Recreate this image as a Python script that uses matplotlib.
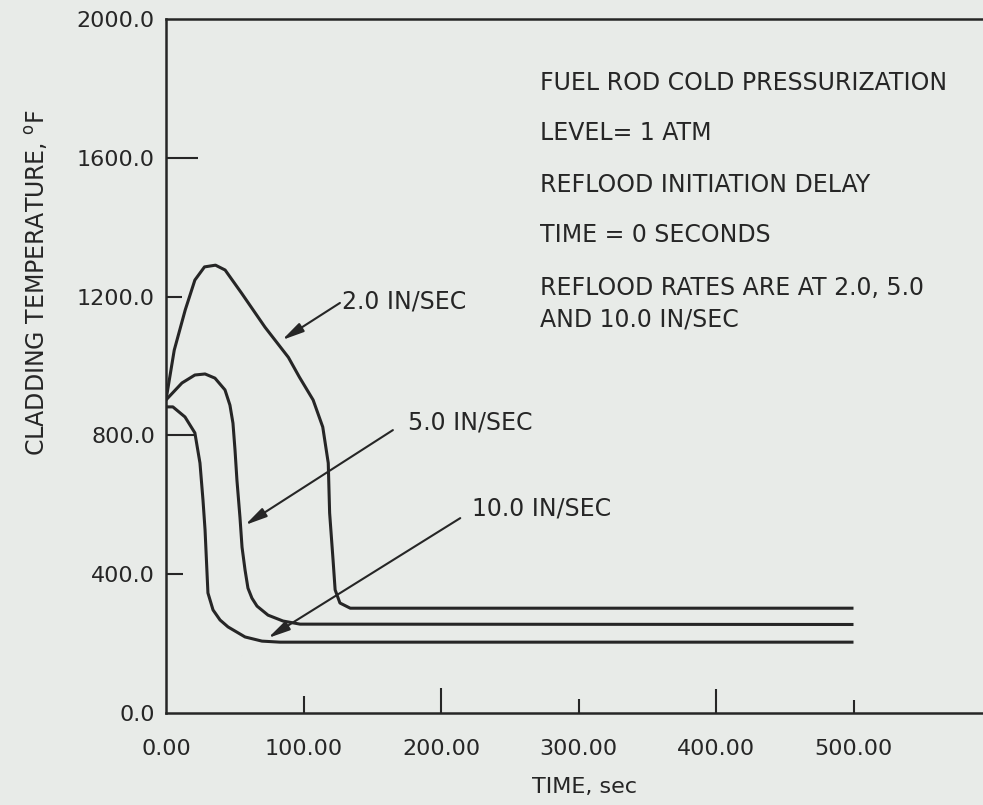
import matplotlib
matplotlib.use('Agg')
import matplotlib.pyplot as plt
import numpy as np

# curves (time sec, cladding temp F)
t_2in = [0, 6, 14, 21, 28, 36, 43, 55, 72, 89, 97, 107, 114, 118, 119, 121.5, 123, 126.5, 134, 500]
T_2in = [902, 1046, 1162, 1248, 1286, 1291, 1277, 1210, 1112, 1025, 968, 902, 824, 720, 576, 440, 354, 316, 301, 301]

t_5in = [0, 11.6, 21, 28.4, 35.6, 42.9, 46.5, 48.7, 50.2, 51.6, 53.8, 55.3, 57.5, 59.6, 62.5, 66.2, 74.2, 85.1, 97.5, 500]
T_5in = [902, 951, 974, 977, 965, 931, 887, 835, 757, 670, 563, 477, 411, 359, 330, 307, 281, 264, 255, 254]

t_10in = [0, 5, 13.8, 21, 24.7, 26.9, 28.4, 30.5, 34.2, 39.3, 45.1, 57.5, 69.8, 82.9, 500]
T_10in = [882, 882, 853, 807, 720, 613, 527, 345, 296, 267, 247, 218, 206, 203, 203]

x_ticks = [0, 100, 200, 300, 400, 500]
x_labels = ['0.00', '100.00', '200.00', '300.00', '400.00', '500.00']
y_ticks = [0, 400, 800, 1200, 1600, 2000]
y_labels = ['0.0', '400.0', '800.0', '1200.0', '1600.0', '2000.0']

notes = ['FUEL ROD COLD PRESSURIZATION', 'LEVEL= 1 ATM', 'REFLOOD INITIATION DELAY',
         'TIME = 0 SECONDS', 'REFLOOD RATES ARE AT 2.0, 5.0', 'AND 10.0 IN/SEC']
notes_y = [1817, 1673, 1522, 1378, 1225, 1133]

# curve labels: text, text pos, arrow tail, arrow head
rate_labels = ['2.0 IN/SEC', '5.0 IN/SEC', '10.0 IN/SEC']
rate_text_xy = [(128, 1185), (176, 836), (222.5, 590)]
rate_tail = [(126.5, 1182), (165, 815), (214, 561)]
rate_head = [(84.4, 1075), (57.5, 541), (74.2, 215)]

bg = '#e8ebe8'
ink = '#262626'

plt.rcParams['font.family'] = 'DejaVu Sans'

fig = plt.figure(figsize=(9.83, 8.05), dpi=100, facecolor=bg)
ax = fig.add_axes([166 / 983, 92.5 / 805, 825 / 983, 693 / 805])
ax.set_facecolor(bg)

for t, T in [(t_2in, T_2in), (t_5in, T_5in), (t_10in, T_10in)]:
    ax.plot(t, T, color=ink, lw=2.2, solid_joinstyle='round', solid_capstyle='butt')

ax.set_xlim(0, 600)
ax.set_ylim(0, 2000)

for s in ['left', 'bottom', 'top']:
    ax.spines[s].set_linewidth(1.8)
    ax.spines[s].set_color(ink)
ax.spines['right'].set_visible(False)

ax.set_xticks(x_ticks)
ax.set_xticklabels(x_labels)
ax.set_yticks(y_ticks)
ax.set_yticklabels(y_labels)
ax.tick_params(direction='in', width=1.5, color=ink, labelcolor=ink, labelsize=16)
ax.tick_params(axis='x', pad=19)
ax.tick_params(axis='y', pad=8)

ax.set_xlabel('TIME, sec', fontsize=16, color=ink)
ax.xaxis.set_label_coords(585 / 983, 1 - 777 / 805, transform=fig.transFigure)
ax.set_ylabel(r'CLADDING TEMPERATURE, $^{\mathrm{o}}$F', fontsize=17, color=ink)
ax.yaxis.set_label_coords(50 / 983, 1 - 282 / 805, transform=fig.transFigure)

for txt, y in zip(notes, notes_y):
    ax.text(272, y, txt, fontsize=17, color=ink, va='center', ha='left')

for lab, txy, tail, head in zip(rate_labels, rate_text_xy, rate_tail, rate_head):
    ax.annotate('', xy=head, xytext=tail,
                arrowprops=dict(arrowstyle='-|>,head_length=1.1,head_width=0.25', lw=1.5,
                                color=ink, shrinkA=0, shrinkB=0, mutation_scale=12))
    ax.text(txy[0], txy[1], lab, fontsize=17, color=ink, va='center', ha='left')

# tick marks alternate long/short in the original
x_len = [0, 12, 18, 10, 17, 9.5]
y_len = [0, 12, 20, 11.5, 23, 0]
for tk, L in zip(ax.xaxis.get_major_ticks(), x_len):
    tk.tick1line.set_markersize(L)
for tk, L in zip(ax.yaxis.get_major_ticks(), y_len):
    tk.tick1line.set_markersize(L)

fig.savefig('out.png', dpi=100, facecolor=bg)
